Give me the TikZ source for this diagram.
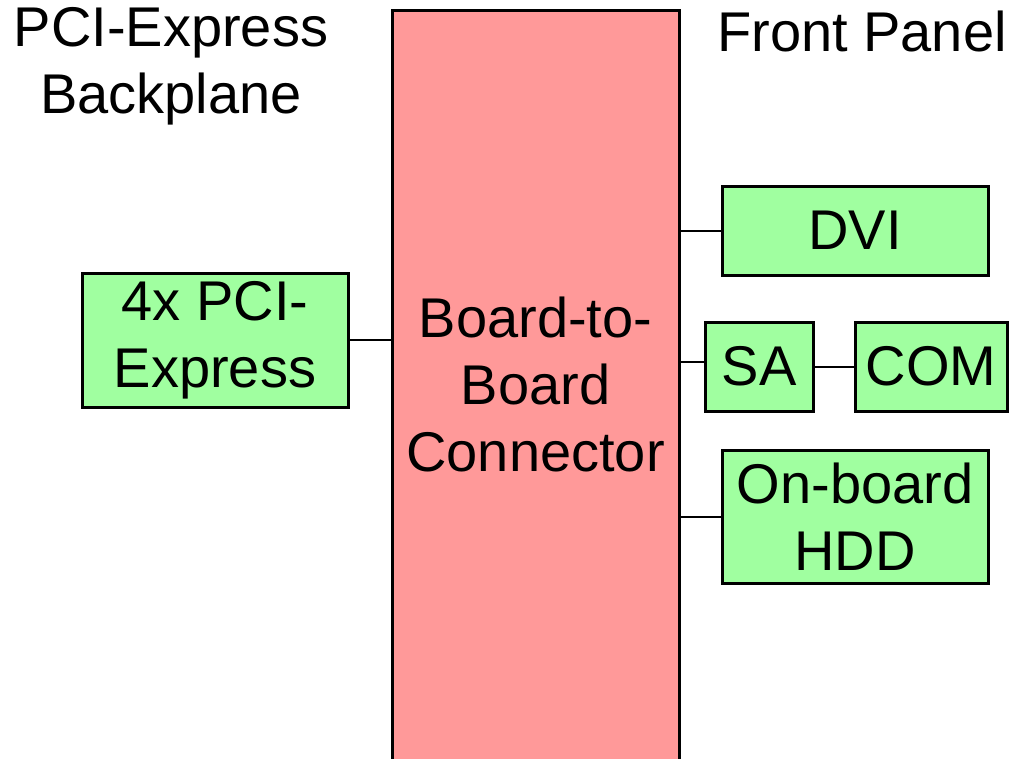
\documentclass[tikz,border=0pt]{standalone}
\usepackage{fontspec}
\setmainfont{Liberation Sans}
\definecolor{boxgreen}{HTML}{A0FFA0}
\definecolor{connpink}{HTML}{FF9999}
\begin{document}
\begin{tikzpicture}[x=1pt,y=-1pt,
  bigfont/.style={font=\fontsize{56}{67}\selectfont},
  greenbox/.style={draw=black, line width=3pt, fill=boxgreen, inner sep=0pt,
    align=center, bigfont},
  pinkbox/.style={draw=black, line width=3pt, fill=connpink, inner sep=0pt},
  title/.style={bigfont, align=center, inner sep=0pt},
  wire/.style={draw=black, line width=2pt}]
\useasboundingbox (0,0) rectangle (1017,758);
\clip (0,0) rectangle (1017,758);
% main connector block
\node[pinkbox, minimum width=287pt, minimum height=750pt] (conn) at (535.5,385) {};
\node[title] (connlabel) at (535.5,384) {Board-to-\\Board\\Connector};
% titles
\node[title] (backplane) at (171,66) {PCI-Express\\Backplane};
\node[title] (front) at (862,31) {Front Panel};
% boxes
\node[greenbox, minimum width=266pt, minimum height=134pt] (pci) at (215,340) {4x PCI-\\Express};
\node[greenbox, minimum width=266pt, minimum height=89pt] (dvi) at (855,230.5) {DVI};
\node[greenbox, minimum width=108pt, minimum height=89pt] (sa) at (759,366.5) {SA};
\node[greenbox, minimum width=152pt, minimum height=89pt] (com) at (931,366.5) {COM};
\node[greenbox, minimum width=266pt, minimum height=133pt] (hdd) at (855,516.5) {On-board\\HDD};
% wires
\coordinate (saj) at (0,362);
\draw[wire] (pci.east) -- (conn.west |- pci.east);
\draw[wire] (conn.east |- dvi.west) -- (dvi.west);
\draw[wire] (conn.east |- saj) -- (sa.west |- saj);
\draw[wire] (sa.east) -- (com.west);
\draw[wire] (conn.east |- hdd.west) -- (hdd.west);
\end{tikzpicture}
\end{document}
